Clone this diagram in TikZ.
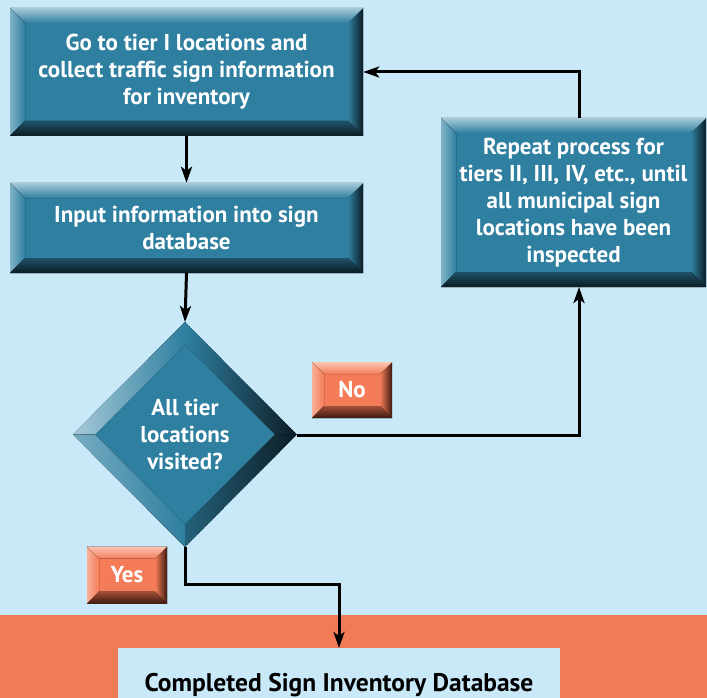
\documentclass[tikz,border=0pt]{standalone}
\usepackage{fontspec}
\setmainfont{PT Sans}
\usetikzlibrary{calc,arrows.meta,shapes.geometric}
\definecolor{bgblue}{HTML}{C9E9F9}
\definecolor{bandorange}{HTML}{F27B57}
\definecolor{bxlight}{HTML}{A6CAD8}
\definecolor{bxmid}{HTML}{2F7FA0}
\definecolor{bxdark}{HTML}{0C1C24}
\definecolor{orlight}{HTML}{FAC6B4}
\definecolor{ormid}{HTML}{F47C58}
\definecolor{ordark}{HTML}{3E1A10}
\tikzset{
  bevelrect/.style n args={4}{path picture={
    \path (path picture bounding box.north west) coordinate (@nw)
          (path picture bounding box.north east) coordinate (@ne)
          (path picture bounding box.south east) coordinate (@se)
          (path picture bounding box.south west) coordinate (@sw);
    \fill[#2] (@nw) rectangle (@se);
    \fill[left color=#3!70!#2, right color=#2] (@nw) -- ($(@nw)+(#1,#1)$) -- ($(@sw)+(#1,-#1)$) -- (@sw) -- cycle;
    \fill[left color=#2, right color=#4] (@ne) -- ($(@ne)+(-#1,#1)$) -- ($(@se)+(-#1,-#1)$) -- (@se) -- cycle;
    \fill[top color=#3, bottom color=#2] (@nw) -- (@ne) -- ($(@ne)+(-#1,#1)$) -- ($(@nw)+(#1,#1)$) -- cycle;
    \fill[top color=#2!55!#4, bottom color=#4] (@sw) -- (@se) -- ($(@se)+(-#1,-#1)$) -- ($(@sw)+(#1,-#1)$) -- cycle;
  }},
  stepbox/.style={bevelrect={15}{bxmid}{bxlight}{bxdark}, text=white, align=center,
    font=\fontsize{23}{27}\selectfont\bfseries, inner sep=0pt, minimum width=#1},
  tagbox/.style={bevelrect={12}{ormid}{orlight}{ordark}, text=white,
    font=\fontsize{23}{26}\selectfont\bfseries, inner sep=0pt},
  decbox/.style={diamond, inner sep=0pt, text=white, align=center,
    font=\fontsize{23}{27}\selectfont\bfseries,
    path picture={
      \path (path picture bounding box.center) coordinate (@c);
      \path (@c) ++(0,-112.5) coordinate (@t) (@c) ++(0,112.5) coordinate (@b)
            (@c) ++(-112,0) coordinate (@l) (@c) ++(112,0) coordinate (@r);
      \path (@c) ++(0,-90) coordinate (@it) (@c) ++(0,90) coordinate (@ib)
            (@c) ++(-90,0) coordinate (@il) (@c) ++(90,0) coordinate (@ir);
      \fill[bxmid] (@t) -- (@r) -- (@b) -- (@l) -- cycle;
      \fill[left color=bxlight, right color=bxmid] (@l) -- (@t) -- (@it) -- (@il) -- cycle;
      \fill[left color=bxlight!60!bxmid, right color=bxmid] (@l) -- (@b) -- (@ib) -- (@il) -- cycle;
      \fill[left color=bxmid, right color=bxdark] (@t) -- (@r) -- (@ir) -- (@it) -- cycle;
      \fill[left color=bxmid!70!bxdark, right color=bxdark] (@b) -- (@r) -- (@ir) -- (@ib) -- cycle;
    }},
  conn/.style={line width=3pt, -{Stealth[length=16pt,width=11pt,inset=4pt]}},
}
\begin{document}
\begin{tikzpicture}[x=1pt,y=-1pt]
  \fill[bgblue] (0,0) rectangle (707,698);
  \useasboundingbox (0,0) rectangle (707,698);
  \fill[bandorange] (0,615) rectangle (707,698);
  \node[fill=bgblue, minimum width=442pt, minimum height=52pt, inner sep=0pt] (done) at (339,674) {};
  \node[font=\fontsize{25.5}{28}\selectfont\bfseries, anchor=base] (donetext) at (339,691) {Completed Sign Inventory Database};

  \node[stepbox=353pt, minimum height=128pt] (s1) at (186.5,72)
    {Go to tier I locations and\\collect traffic sign information\\for inventory};
  \node[stepbox=353pt, minimum height=90pt] (s2) at (186.5,228)
    {Input information into sign\\database};
  \node[stepbox=265pt, minimum height=169pt] (s3) at (573.5,202.5)
    {Repeat process for\\tiers II, III, IV, etc., until\\all municipal sign\\locations have been\\inspected};
  \node[decbox, minimum width=224pt, minimum height=225pt] (d) at (185,434.5)
    {All tier\\locations\\visited?};
  \node[tagbox, minimum width=80pt, minimum height=56pt] (no) at (352,390) {No};
  \node[tagbox, minimum width=80pt, minimum height=57pt] (yes) at (127,575) {Yes};

  \coordinate (dtop) at (185,322);
  \coordinate (dbot) at (185,547);
  \coordinate (dright) at (297,435);
  \coordinate (ytarget) at (339,648);

  \draw[conn] (s1.south) -- (s2.north);
  \draw[conn] (s2.south) -- (dtop);
  \draw[conn] (dright) -| (579,287) coordinate (s3b);
  \draw[conn] (579,118) coordinate (s3t) |- (s1.east);
  \draw[conn] (dbot) -- (185,584) -| (ytarget);
\end{tikzpicture}
\end{document}
